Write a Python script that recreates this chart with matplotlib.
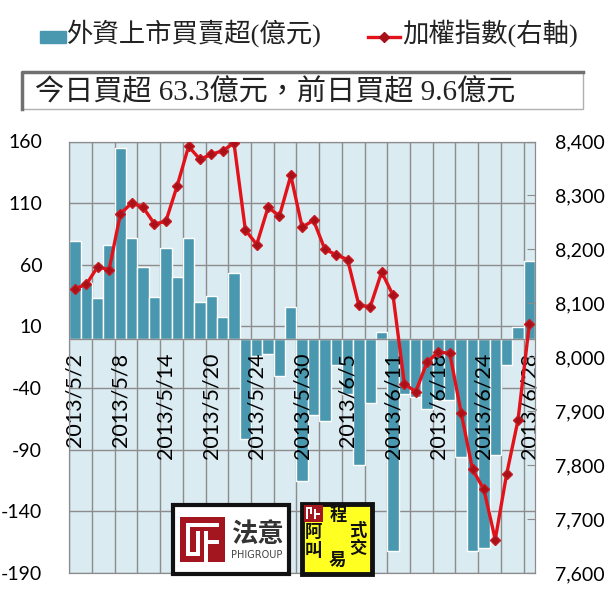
import numpy as np
import matplotlib
matplotlib.use('Agg')
from matplotlib import pyplot as plt
from matplotlib.patches import Rectangle
from matplotlib.lines import Line2D

plt.rcParams['axes.unicode_minus'] = False

# Data - trading days May/June 2013
dates = ['2013/5/2', '2013/5/3', '2013/5/6', '2013/5/7', '2013/5/8', '2013/5/9',
         '2013/5/10', '2013/5/13', '2013/5/14', '2013/5/15', '2013/5/16', '2013/5/17',
         '2013/5/20', '2013/5/21', '2013/5/22', '2013/5/23', '2013/5/24', '2013/5/27',
         '2013/5/28', '2013/5/29', '2013/5/30', '2013/5/31', '2013/6/3', '2013/6/4',
         '2013/6/5', '2013/6/6', '2013/6/7', '2013/6/10', '2013/6/11', '2013/6/13',
         '2013/6/14', '2013/6/17', '2013/6/18', '2013/6/19', '2013/6/20', '2013/6/21',
         '2013/6/24', '2013/6/25', '2013/6/26', '2013/6/27', '2013/6/28']
flows = [79, 45, 33, 76, 155, 82, 58, 34, 74, 50, 82, 30, 35, 18, 53,
         -81, -14, -12, -30, 26, -115, -62, -67, -21, -45, -102, -52, 5.5,
         -172, -45, -47, -57, -50, -50, -96, -172, -170, -94, -21, 9.6, 63.3]
taiex = [8127, 8135, 8168, 8162, 8266, 8286, 8278, 8247, 8252, 8318, 8391, 8367,
         8376, 8383, 8397, 8236, 8209, 8278, 8262, 8337, 8241, 8254, 8200, 8190,
         8181, 8096, 8094, 8158, 8115, 7951, 7936, 7991, 8010, 8007, 7897, 7792,
         7755, 7662, 7783, 7883, 8061]
left_ticks = [-190, -140, -90, -40, 10, 60, 110, 160]
right_ticks = [7600, 7700, 7800, 7900, 8000, 8100, 8200, 8300, 8400]

bar_color = '#4A98B0'
line_color = '#E2121B'
grid_color = '#8C8C8C'
cjk = ['Liberation Serif', 'Noto Sans CJK TC']

W, H = 609, 604
def fx(px):
    return px / W
def fy(py):
    return 1 - py / H

fig = plt.figure(figsize=(W / 100, H / 100), dpi=100)
ax = fig.add_axes([fx(69.3), fy(573), (535 - 69.3) / W, (573 - 141.5) / H])
ax.set_facecolor('#DAEBF2')

x = np.arange(len(dates))
ax.bar(x, flows, width=1.0, color=bar_color, edgecolor='white', linewidth=1, zorder=2)
ax.axhline(0, color=grid_color, lw=1, zorder=2.5)
ax.set_xlim(-0.5, len(dates) - 0.5)
ax.set_ylim(-190, 160)
ax.set_yticks(left_ticks)
ax.set_xticks(np.arange(-0.5, len(dates), 2))
ax.tick_params(axis='x', length=0, labelbottom=False)
ax.tick_params(axis='y', length=0, pad=19.5, labelsize=14)
for lab in ax.get_yticklabels():
    lab.set_family('Lato')
ax.set_axisbelow(True)
ax.grid(True, color=grid_color, lw=1)
for s in ax.spines.values():
    s.set_color(grid_color)

for i in range(0, len(dates), 4):
    ax.annotate(dates[i], xy=(i, 0), xytext=(0, -10), textcoords='offset points',
                rotation=90, ha='center', va='top', fontsize=15.5, family='Lato',
                color='#000000', zorder=3)

ax2 = ax.twinx()
ax2.plot(x, taiex, color=line_color, lw=2.4, marker='D', ms=5.5,
         mfc='#A8101A', mec='#C81A20', zorder=3)
ax2.set_ylim(7600, 8400)
ax2.set_yticks(right_ticks)
ax2.set_yticklabels([f'{v:,}' for v in right_ticks])
ax2.tick_params(axis='y', direction='in', length=6, color=grid_color, pad=14.4, labelsize=14)
for lab in ax2.get_yticklabels():
    lab.set_family('Lato')
for s in ax2.spines.values():
    s.set_color(grid_color)

# legend
fig.add_artist(Rectangle((fx(40), fy(43)), 26 / W, 12 / H, color=bar_color,
                         transform=fig.transFigure))
fig.text(fx(67), fy(33), '外資上市買賣超(億元)', va='center', ha='left',
         fontsize=19, family=cjk, color='#222222')
fig.add_artist(Line2D([fx(368), fx(400)], [fy(37), fy(37)], color=line_color, lw=2.4,
                      transform=fig.transFigure))
fig.add_artist(Line2D([fx(384)], [fy(37)], marker='D', ms=5, color='#A8101A',
                      transform=fig.transFigure))
fig.text(fx(402), fy(33), '加權指數(右軸)', va='center', ha='left',
         fontsize=19, family=cjk, color='#222222')

# summary box
fig.add_artist(Rectangle((fx(22), fy(109)), 561 / W, 37 / H, facecolor='white',
                         edgecolor='#B0B0B0', lw=1, transform=fig.transFigure))
fig.add_artist(Line2D([fx(22), fx(22), fx(583)], [fy(109), fy(72), fy(72)],
                      color='#707070', lw=2.5, transform=fig.transFigure))
fig.text(fx(35), fy(92), '今日買超 63.3億元，前日買超 9.6億元', va='center', ha='left',
         fontsize=21, family=cjk, color='#222222')

# logos
fig.add_artist(Rectangle((fx(173), fy(574)), 116 / W, 69 / H, facecolor='white',
                         edgecolor='#111111', lw=3, transform=fig.transFigure, zorder=5))
red = '#A3151F'
fig.add_artist(Rectangle((fx(180), fy(562)), 45 / W, 45 / H, facecolor=red,
                         edgecolor='none', transform=fig.transFigure, zorder=6))
for (x0, y0, w, h) in [(186, 523, 33, 4), (186, 523, 4, 33), (186, 552, 14, 4),
                       (196, 531, 4, 25), (204, 531, 4, 31), (208, 540, 11, 4)]:
    fig.add_artist(Rectangle((fx(x0), fy(y0 + h)), w / W, h / H, facecolor='white',
                             edgecolor='none', transform=fig.transFigure, zorder=7))
fig.text(fx(257), fy(534), '法意', ha='center', va='center', fontsize=19,
         fontweight='bold', family=cjk, color='#333333', zorder=7)
fig.text(fx(257), fy(555), 'PHIGROUP', ha='center', va='center', fontsize=7,
         family='Liberation Sans Narrow', color='#444444', zorder=7)

fig.add_artist(Rectangle((fx(302), fy(574)), 70 / W, 70 / H, facecolor='#FFFF22',
                         edgecolor='#111111', lw=3.5, transform=fig.transFigure, zorder=5))
fig.add_artist(Rectangle((fx(304), fy(522)), 19 / W, 17 / H, facecolor=red,
                         edgecolor='none', transform=fig.transFigure, zorder=6))
for (x0, y0, w, h) in [(306, 507, 2, 12), (306, 507, 6, 2), (310, 507, 2, 7),
                       (314, 509, 2, 10), (316, 513, 4, 2)]:
    fig.add_artist(Rectangle((fx(x0), fy(y0 + h)), w / W, h / H, facecolor='white',
                             edgecolor='none', transform=fig.transFigure, zorder=7))
for ch, px, py in [('程', 338, 516), ('阿', 313, 533), ('式', 358, 531),
                   ('叫', 313, 551), ('交', 358, 550), ('易', 337, 561)]:
    fig.text(fx(px), fy(py), ch, ha='center', va='center', fontsize=12.5,
             fontweight='bold', family=cjk, color='#111111', zorder=7)

plt.savefig('out.png', dpi=100)
